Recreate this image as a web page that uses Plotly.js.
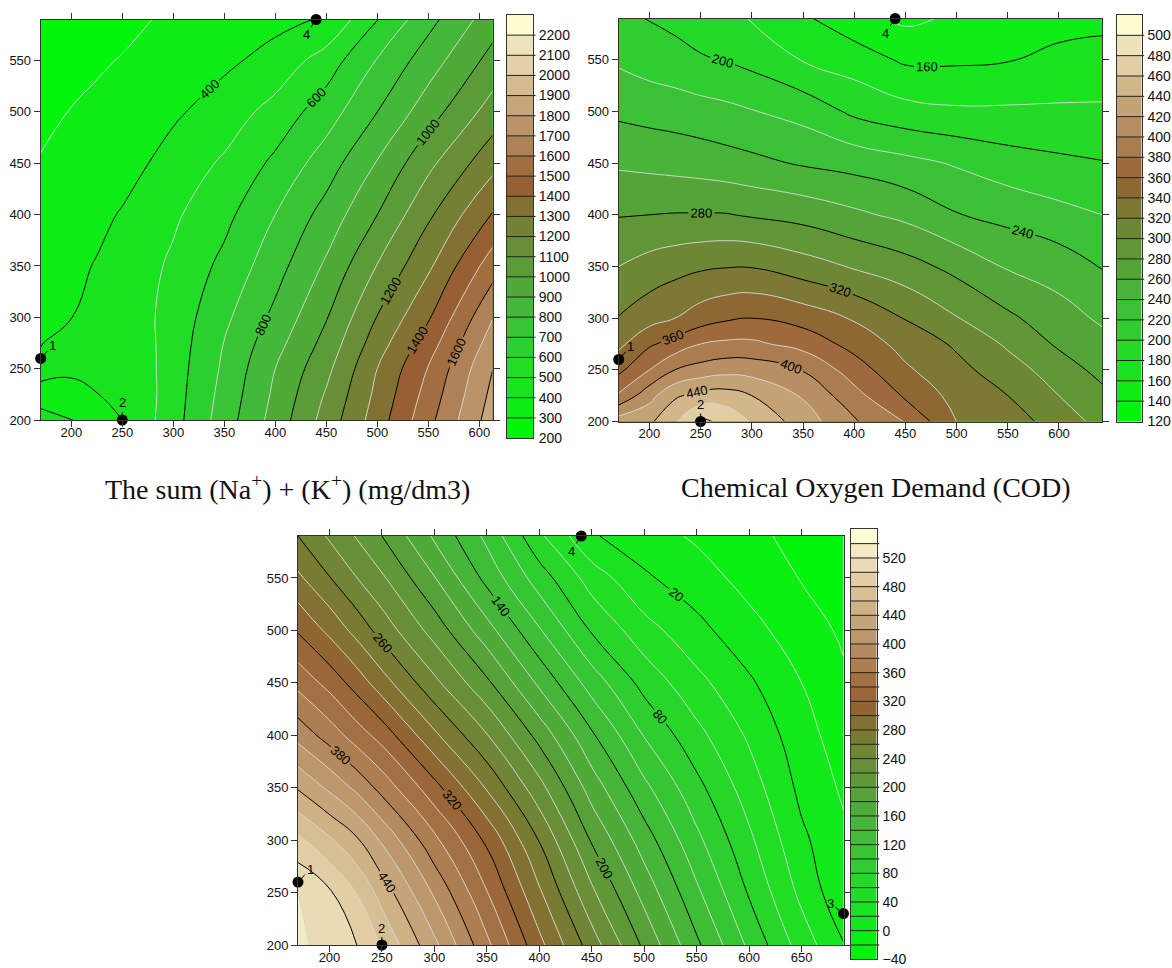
<!DOCTYPE html>
<html>
<head>
<meta charset="utf-8">
<script src="https://cdn.plot.ly/plotly-3.0.1.min.js"></script>
<style>
html,body{margin:0;padding:0;background:#fff;}
#chart{width:1172px;height:968px;}
</style>
</head>
<body>
<div id="chart"></div>
<script>
// ================= DATA =================
// Panel 1: The sum (Na+) + (K+) (mg/dm3)
const naX = [170, 200, 225, 250, 275, 300, 350, 400, 450, 500, 550, 613];
const naY = [200, 225, 250, 275, 300, 350, 400, 450, 500, 550, 590];
const naZ = [
  [408, 401, 385, 400, 475, 561, 750, 940, 1140, 1350, 1570, 1850],
  [390, 393, 398, 425, 470, 555, 734, 920, 1110, 1325, 1538, 1825],
  [410, 404, 425, 440, 475, 550, 718, 900, 1073, 1300, 1505, 1798],
  [398, 420, 440, 455, 480, 543, 703, 863, 1033, 1252, 1449, 1750],
  [385, 399, 425, 455, 485, 537, 678, 825, 994, 1204, 1389, 1695],
  [365, 385, 404, 438, 475, 517, 626, 760, 916, 1104, 1282, 1553],
  [345, 366, 384, 405, 445, 484, 572, 700, 838, 1000, 1182, 1406],
  [305, 328, 350, 375, 399, 437, 515, 621, 751, 907, 1075, 1267],
  [280, 303, 320, 337, 358, 385, 445, 537, 653, 800, 954, 1144],
  [250, 270, 288, 305, 322, 342, 381, 433, 547, 706, 852, 1035],
  [230, 245, 260, 275, 297, 315, 344, 375, 410, 597, 768, 955]
];
const naEdges = [200, 300, 400, 500, 600, 700, 800, 900, 1000, 1100, 1200, 1300, 1400, 1500, 1600, 1700, 1800, 1900, 2000, 2100, 2200, 2300];
const naCbTicks = [200, 300, 400, 500, 600, 700, 800, 900, 1000, 1100, 1200, 1300, 1400, 1500, 1600, 1700, 1800, 1900, 2000, 2100, 2200];
const naXTicks = [200, 250, 300, 350, 400, 450, 500, 550, 600];
const naYTicks = [200, 250, 300, 350, 400, 450, 500, 550];

// Panel 2: Chemical Oxygen Demand (COD)
const codX = [170, 200, 225, 250, 275, 300, 350, 400, 450, 500, 550, 600, 642];
const codY = [200, 225, 250, 275, 300, 350, 400, 450, 500, 550, 590];
const codZ = [
  [430, 436, 458, 484, 475, 458, 430, 402, 379, 340, 331, 310, 294],
  [383, 413, 437, 447, 449, 440, 418, 387, 357, 333, 320, 300, 285],
  [355, 380, 400, 408, 413, 412, 399, 370, 343, 326, 309, 290, 274],
  [335, 357, 368, 380, 384, 384, 373, 353, 333, 317, 297, 277, 266],
  [321, 332, 340, 350, 357, 360, 352, 338, 319, 301, 284, 268, 257],
  [300, 308, 313, 317, 319, 319, 309, 298, 288, 274, 258, 251, 239],
  [279, 280, 281, 281, 281, 278, 273, 264, 255, 241, 234, 226, 220],
  [257, 255, 253, 251, 248, 245, 238, 233, 226, 218, 209, 204, 201],
  [236, 233, 231, 228, 225, 221, 213, 196, 187, 183, 183, 183, 183],
  [217, 211, 207, 202, 199, 194, 179, 170, 157, 157, 159, 165, 167],
  [205, 199, 195, 190, 185, 179, 163, 148, 136, 143, 150, 153, 155]
];
const codEdges = [120, 140, 160, 180, 200, 220, 240, 260, 280, 300, 320, 340, 360, 380, 400, 420, 440, 460, 480, 500, 520];
const codCbTicks = [120, 140, 160, 180, 200, 220, 240, 260, 280, 300, 320, 340, 360, 380, 400, 420, 440, 460, 480, 500];
const codXTicks = [200, 250, 300, 350, 400, 450, 500, 550, 600];
const codYTicks = [200, 250, 300, 350, 400, 450, 500, 550];

// Panel 3 (bottom)
const p3X = [170, 200, 225, 250, 300, 350, 400, 450, 500, 550, 600, 650, 690];
const p3Y = [200, 250, 300, 350, 400, 450, 500, 550, 590];
const p3Z = [
  [525, 511, 501, 478, 425, 365, 306, 250, 196, 144, 96, 51, 21],
  [520, 503, 480, 452, 397, 341, 283, 224, 173, 124, 78, 35, 5],
  [485, 463, 444, 417, 365, 316, 259, 198, 150, 105, 64, 24, 4],
  [438, 416, 396, 373, 327, 278, 227, 171, 125, 86, 50, 15, -3],
  [393, 371, 351, 332, 284, 241, 193, 143, 99, 66, 37, 8, -10],
  [354, 333, 312, 289, 245, 204, 156, 111, 73, 46, 23, 0, -17],
  [318, 295, 274, 252, 212, 168, 122, 78, 48, 26, 7, -11, -23],
  [284, 261, 241, 223, 181, 134, 90, 51, 23, 9, -7, -21, -27],
  [260, 237, 219, 200, 157, 115, 64, 22, 9, -3, -15, -26, -30]
];
const p3Edges = [-40, -20, 0, 20, 40, 60, 80, 100, 120, 140, 160, 180, 200, 220, 240, 260, 280, 300, 320, 340, 360, 380, 400, 420, 440, 460, 480, 500, 520, 540, 560];
const p3CbTicks = [-40, 0, 40, 80, 120, 160, 200, 240, 280, 320, 360, 400, 440, 480, 520];
const p3XTicks = [200, 250, 300, 350, 400, 450, 500, 550, 600, 650];
const p3YTicks = [200, 250, 300, 350, 400, 450, 500, 550];

// Design points
const ptX = [170, 250, 690, 440];
const ptY = [260, 200, 230, 590];
const ptLabel = ['1', '2', '3', '4'];

// Band colours (low -> high)
const bandColors = [
  'rgb(0,245,10)', 'rgb(14,236,22)', 'rgb(24,228,30)', 'rgb(34,220,38)', 'rgb(44,208,46)',
  'rgb(56,196,52)', 'rgb(68,184,56)', 'rgb(80,170,56)', 'rgb(92,156,56)', 'rgb(104,142,54)',
  'rgb(116,128,52)', 'rgb(130,114,50)', 'rgb(150,96,50)', 'rgb(162,110,64)', 'rgb(174,130,86)',
  'rgb(186,148,104)', 'rgb(198,166,122)', 'rgb(212,186,142)', 'rgb(226,208,166)', 'rgb(238,228,188)',
  'rgb(255,252,210)'
];

// ================= BUILD =================
const W = 1172, H = 968;
const sans = 'Liberation Sans, Arial, sans-serif';
const serif = 'Liberation Serif, Times New Roman, serif';
const lightCol = 'rgba(215,215,215,0.95)';
const frameCol = '#333';
const SMOOTH = 1.3;
const cmap = bandColors.map((c, i) => [i / (bandColors.length - 1), c]);
function dX(a, b) { return [a / W, b / W]; }
function dY(top, bottom) { return [1 - bottom / H, 1 - top / H]; }

const traces = [];
const layout = {
  width: W, height: H,
  margin: {l: 0, r: 0, t: 0, b: 0},
  paper_bgcolor: '#fff', plot_bgcolor: '#fff',
  showlegend: false,
  font: {family: sans, size: 13, color: '#111'},
  annotations: [], shapes: []
};
const labelOffsets = {'1': [12, -13], '2': [0, -17], '3': [-13, -10], '4': [-10, 15]};

function panel(n, x, y, z, edges, lightSets, black, xTicks, yTicks, box, cbBox, cbTicks) {
  const xa = 'x' + (n === 1 ? '' : n), ya = 'y' + (n === 1 ? '' : n);
  const step = edges[1] - edges[0];
  const base = {type: 'contour', x: x, y: y, z: z, xaxis: xa, yaxis: ya,
                showscale: false, hoverinfo: 'skip', autocontour: false};
  traces.push(Object.assign({}, base, {
    contours: {start: edges[1], end: edges[edges.length - 2], size: step, coloring: 'fill', showlines: false},
    colorscale: cmap, line: {width: 0, smoothing: SMOOTH}
  }));
  lightSets.forEach(ls => traces.push(Object.assign({}, base, {
    contours: {start: ls[0], end: ls[1], size: ls[2], coloring: 'none'},
    line: {color: lightCol, width: 1, smoothing: SMOOTH}
  })));
  traces.push(Object.assign({}, base, {
    contours: {start: black[0], end: black[1], size: black[2], coloring: 'none', showlabels: true,
               labelfont: {family: sans, size: 13, color: '#000'}},
    line: {color: '#000', width: 1, smoothing: SMOOTH}
  }));
  // design points inside this panel
  const xr = [x[0], x[x.length - 1]];
  const px = [], py = [], pl = [];
  ptX.forEach((v, i) => { if (v >= xr[0] && v <= xr[1]) { px.push(v); py.push(ptY[i]); pl.push(ptLabel[i]); } });
  traces.push({type: 'scatter', mode: 'markers', x: px, y: py, xaxis: xa, yaxis: ya, cliponaxis: false,
               marker: {size: 11, color: '#000'}, hoverinfo: 'skip'});
  pl.forEach((t, i) => layout.annotations.push({
    x: px[i], y: py[i], xref: xa, yref: ya, text: t, showarrow: true, arrowhead: 0, arrowwidth: 1,
    arrowcolor: '#000', ax: labelOffsets[t][0], ay: labelOffsets[t][1], standoff: 3,
    font: {family: sans, size: 13, color: '#000'}
  }));
  const common = {showline: true, mirror: 'ticks', linecolor: frameCol, linewidth: 1, ticks: 'outside',
                  ticklen: 6, tickcolor: frameCol, tickfont: {family: sans, size: 13, color: '#111'},
                  showgrid: false, zeroline: false, fixedrange: true};
  layout['xaxis' + (n === 1 ? '' : n)] = Object.assign({}, common, {
    domain: dX(box[0], box[1]), range: xr, tickvals: xTicks, anchor: ya, ticklabelstandoff: -6});
  layout['yaxis' + (n === 1 ? '' : n)] = Object.assign({}, common, {
    domain: dY(box[2], box[3]), range: [y[0], y[y.length - 1]], tickvals: yTicks, anchor: xa});

  // colour bar as its own heatmap axes
  const m = n + 3;
  const cx = 'x' + m, cy = 'y' + m;
  const centers = edges.slice(0, -1).map((e, i) => (e + edges[i + 1]) / 2);
  traces.push({type: 'heatmap', x: [0], y: centers, z: centers.map(c => [c]), xaxis: cx, yaxis: cy,
               zmin: centers[0], zmax: centers[centers.length - 1], colorscale: cmap,
               showscale: false, hoverinfo: 'skip'});
  layout['xaxis' + m] = {domain: dX(cbBox[0], cbBox[1]), range: [-0.5, 0.5], showticklabels: false,
                         ticks: '', showline: true, mirror: true, linecolor: frameCol, showgrid: false,
                         zeroline: false, fixedrange: true, anchor: cy};
  layout['yaxis' + m] = {domain: dY(cbBox[2], cbBox[3]), range: [edges[0], edges[edges.length - 1]],
                         side: 'right', tickvals: cbTicks, ticks: '', ticklabelstandoff: 2,
                         tickfont: {family: sans, size: 14, color: '#111'}, showline: true, mirror: true,
                         linecolor: frameCol, showgrid: false, zeroline: false, fixedrange: true, anchor: cx};
  edges.slice(1, -1).forEach(e => layout.shapes.push({
    type: 'line', xref: cx + ' domain', yref: cy, x0: 0, x1: 1.1, y0: e, y1: e,
    line: {color: '#222', width: 1}
  }));
}

panel(1, naX, naY, naZ, naEdges, [[300, 2200, 200]], [400, 2200, 200], naXTicks, naYTicks,
      [40.7, 492.6, 19.5, 420], [507, 533, 15, 438], naCbTicks);
panel(2, codX, codY, codZ, codEdges, [[140, 500, 40]], [160, 480, 40], codXTicks, codYTicks,
      [618.7, 1102, 18.5, 421.5], [1116.7, 1141.7, 15, 421.5], codCbTicks);
panel(3, p3X, p3Y, p3Z, p3Edges, [[-20, 540, 60], [0, 540, 60]], [20, 500, 60], p3XTicks, p3YTicks,
      [298, 843.5, 536, 945], [850.7, 876.7, 529.3, 959.3], p3CbTicks);

// panel titles
layout.annotations.push({xref: 'paper', yref: 'paper', x: 287 / W, y: 1 - 487 / H, xanchor: 'center',
  yanchor: 'middle', showarrow: false, text: 'The sum (Na<sup>+</sup>) + (K<sup>+</sup>) (mg/dm3)',
  font: {family: serif, size: 28, color: '#111'}});
layout.annotations.push({xref: 'paper', yref: 'paper', x: 876 / W, y: 1 - 487 / H, xanchor: 'center',
  yanchor: 'middle', showarrow: false, text: 'Chemical Oxygen Demand (COD)',
  font: {family: serif, size: 28, color: '#111'}});

Plotly.newPlot('chart', traces, layout, {displayModeBar: false, staticPlot: true});
</script>
</body>
</html>
